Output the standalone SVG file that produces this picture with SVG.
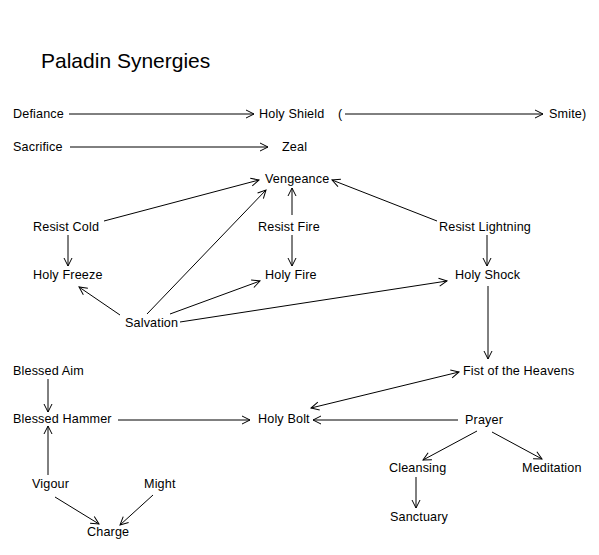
<svg xmlns="http://www.w3.org/2000/svg" width="599" height="555" viewBox="0 0 599 555">
<style>
text{font-family:"Liberation Sans",Arial,sans-serif;font-size:12.6px;letter-spacing:0.15px;fill:#000}
.title{font-size:21px;letter-spacing:0}
#connectors line{stroke:#000;stroke-width:1;fill:none}
</style>
<defs>
<marker id="ah" viewBox="-10 -6 12 12" refX="0" refY="0" markerWidth="12" markerHeight="12" markerUnits="userSpaceOnUse" orient="auto-start-reverse">
<path d="M-8,-4 L0,0 L-8,4" fill="none" stroke="#000" stroke-width="1"/>
</marker>
</defs>
<rect width="599" height="555" fill="#fff"/>
<text class="title" x="41" y="68">Paladin Synergies</text>
<g id="connectors">
<line x1="69" y1="114" x2="254" y2="114" marker-end="url(#ah)"/>
<line x1="345" y1="114" x2="543" y2="114" marker-end="url(#ah)"/>
<line x1="70" y1="147" x2="268" y2="147" marker-end="url(#ah)"/>
<line x1="104" y1="221" x2="259" y2="180" marker-end="url(#ah)"/>
<line x1="147" y1="314" x2="266" y2="190" marker-end="url(#ah)"/>
<line x1="292" y1="215" x2="292" y2="188" marker-end="url(#ah)"/>
<line x1="292" y1="235" x2="292" y2="266" marker-end="url(#ah)"/>
<line x1="437" y1="221" x2="332" y2="180" marker-end="url(#ah)"/>
<line x1="487" y1="235" x2="487" y2="266" marker-end="url(#ah)"/>
<line x1="68" y1="235" x2="68" y2="266" marker-end="url(#ah)"/>
<line x1="120" y1="315" x2="79" y2="287" marker-end="url(#ah)"/>
<line x1="170" y1="314" x2="260" y2="281" marker-end="url(#ah)"/>
<line x1="180" y1="322" x2="447" y2="281" marker-end="url(#ah)"/>
<line x1="488" y1="286" x2="488" y2="359" marker-end="url(#ah)"/>
<line x1="459" y1="372" x2="311" y2="408" marker-start="url(#ah)" marker-end="url(#ah)"/>
<line x1="458" y1="420" x2="313" y2="420" marker-end="url(#ah)"/>
<line x1="477" y1="431" x2="423" y2="460" marker-end="url(#ah)"/>
<line x1="492" y1="432" x2="542" y2="459" marker-end="url(#ah)"/>
<line x1="416" y1="477" x2="416" y2="508" marker-end="url(#ah)"/>
<line x1="48" y1="379" x2="48" y2="412" marker-end="url(#ah)"/>
<line x1="118" y1="420" x2="250" y2="420" marker-end="url(#ah)"/>
<line x1="48" y1="475" x2="48" y2="426" marker-end="url(#ah)"/>
<line x1="55" y1="497" x2="99" y2="524" marker-end="url(#ah)"/>
<line x1="153" y1="495" x2="120" y2="525" marker-end="url(#ah)"/>
</g>
<g id="defiance"><text x="13" y="118">Defiance</text></g>
<g id="holy-shield"><text x="259" y="118">Holy Shield</text></g>
<g id="smite"><text x="338" y="118">(</text><text x="549" y="118">Smite)</text></g>
<g id="sacrifice"><text x="13" y="151">Sacrifice</text></g>
<g id="zeal"><text x="282" y="151">Zeal</text></g>
<g id="vengeance"><text x="265" y="183">Vengeance</text></g>
<g id="resist-cold"><text x="33" y="231">Resist Cold</text></g>
<g id="resist-fire"><text x="258" y="231">Resist Fire</text></g>
<g id="resist-lightning"><text x="439" y="231">Resist Lightning</text></g>
<g id="holy-freeze"><text x="33" y="279">Holy Freeze</text></g>
<g id="holy-fire"><text x="265" y="279">Holy Fire</text></g>
<g id="holy-shock"><text x="455" y="279">Holy Shock</text></g>
<g id="salvation"><text x="125" y="327">Salvation</text></g>
<g id="blessed-aim"><text x="13" y="375">Blessed Aim</text></g>
<g id="fist-of-the-heavens"><text x="463" y="375">Fist of the Heavens</text></g>
<g id="blessed-hammer"><text x="13" y="423">Blessed Hammer</text></g>
<g id="holy-bolt"><text x="258" y="423">Holy Bolt</text></g>
<g id="prayer"><text x="465" y="424">Prayer</text></g>
<g id="cleansing"><text x="389" y="472">Cleansing</text></g>
<g id="meditation"><text x="522" y="472">Meditation</text></g>
<g id="sanctuary"><text x="390" y="521">Sanctuary</text></g>
<g id="vigour"><text x="32" y="488">Vigour</text></g>
<g id="might"><text x="144" y="488">Might</text></g>
<g id="charge"><text x="87" y="536">Charge</text></g>
</svg>
